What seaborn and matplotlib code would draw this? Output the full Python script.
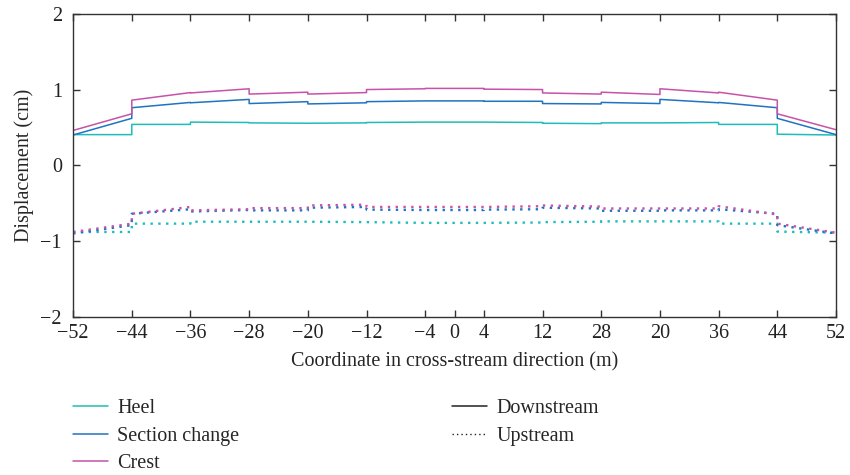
import numpy as np
import pandas as pd
import seaborn as sns
import matplotlib
matplotlib.use("Agg")
import matplotlib.pyplot as plt
from matplotlib.lines import Line2D

# Section boundaries along the dam axis (m)
bounds = [-52, -44, -36, -28, -20, -12, -4, 4, 12, 20, 28, 36, 44, 52]

# Displacement at the start / end of each section (cm)
down_crest_start = [0.46, 0.86, 0.955, 0.94, 0.94, 1.00, 1.015, 1.005, 0.955, 0.965, 1.01, 0.965, 0.68]
down_crest_end = [0.68, 0.96, 1.01, 0.965, 0.96, 1.01, 1.015, 1.00, 0.94, 0.935, 0.955, 0.86, 0.47]
down_section_start = [0.40, 0.76, 0.825, 0.815, 0.81, 0.84, 0.85, 0.845, 0.815, 0.83, 0.87, 0.83, 0.62]
down_section_end = [0.62, 0.83, 0.87, 0.84, 0.825, 0.85, 0.85, 0.845, 0.81, 0.815, 0.825, 0.76, 0.405]
down_heel_start = [0.405, 0.54, 0.57, 0.56, 0.555, 0.565, 0.57, 0.57, 0.555, 0.56, 0.56, 0.54, 0.41]
down_heel_end = [0.405, 0.54, 0.565, 0.555, 0.56, 0.57, 0.57, 0.565, 0.55, 0.56, 0.565, 0.54, 0.40]

up_crest_start = [-0.88, -0.64, -0.595, -0.565, -0.53, -0.55, -0.55, -0.55, -0.53, -0.57, -0.57, -0.54, -0.77]
up_crest_end = [-0.77, -0.55, -0.58, -0.565, -0.52, -0.55, -0.55, -0.54, -0.545, -0.57, -0.57, -0.65, -0.89]
up_section_start = [-0.90, -0.64, -0.61, -0.595, -0.56, -0.585, -0.59, -0.585, -0.56, -0.60, -0.595, -0.58, -0.79]
up_section_end = [-0.79, -0.58, -0.59, -0.595, -0.55, -0.59, -0.59, -0.58, -0.57, -0.60, -0.595, -0.64, -0.90]
up_heel_start = [-0.88, -0.77, -0.745, -0.745, -0.745, -0.75, -0.76, -0.76, -0.75, -0.74, -0.74, -0.77, -0.875]
up_heel_end = [-0.88, -0.77, -0.745, -0.745, -0.75, -0.76, -0.76, -0.755, -0.745, -0.74, -0.74, -0.77, -0.89]

locations = ["Heel", "Section change", "Crest"]
faces = ["Downstream", "Upstream"]
tick_pos = [-52, -44, -36, -28, -20, -12, -4, 0, 4, 12, 20, 28, 36, 44, 52]
tick_labels = ["\u221252", "\u221244", "\u221236", "\u221228", "\u221220", "\u221212",
               "\u22124", "0", "4", "12", "28", "20", "36", "44", "52"]

palette = {"Heel": "#1fbdb8", "Section change": "#1f74c2", "Crest": "#c852a8"}

series = {
    ("Heel", "Downstream"): (down_heel_start, down_heel_end),
    ("Section change", "Downstream"): (down_section_start, down_section_end),
    ("Crest", "Downstream"): (down_crest_start, down_crest_end),
    ("Heel", "Upstream"): (up_heel_start, up_heel_end),
    ("Section change", "Upstream"): (up_section_start, up_section_end),
    ("Crest", "Upstream"): (up_crest_start, up_crest_end),
}

# Long-form table: each section contributes its two end points, so the
# curves jump vertically at every section joint.
rows = []
for (loc, face), (starts, ends) in series.items():
    for i in range(len(starts)):
        rows.append((bounds[i], starts[i], loc, face))
        rows.append((bounds[i + 1], ends[i], loc, face))
df = pd.DataFrame(rows, columns=["x", "disp", "location", "face"])

sns.set_theme(style="white")
plt.rcParams["font.family"] = ["Liberation Serif", "DejaVu Serif"]
plt.rcParams["font.size"] = 14.5

fig = plt.figure(figsize=(8.5, 4.75), dpi=100)
ax = fig.add_axes([0.086, 0.333, 0.8975, 0.638])

for loc in locations:
    sns.lineplot(data=df[(df.location == loc) & (df.face == "Downstream")],
                 x="x", y="disp", color=palette[loc], sort=False, estimator=None,
                 lw=1.1, ax=ax, legend=False)
for loc in locations:
    sns.lineplot(data=df[(df.location == loc) & (df.face == "Upstream")],
                 x="x", y="disp", color=palette[loc], sort=False, estimator=None,
                 lw=1.7, dashes=(1, 2.3), ax=ax, legend=False)

ax.set_xlim(-52, 52)
ax.set_ylim(-2, 2)
ax.set_xticks(tick_pos)
ax.set_xticklabels(tick_labels)
ax.set_yticks([-2, -1, 0, 1, 2])
ax.set_xlabel("Coordinate in cross-stream direction (m)", fontsize=14.5, labelpad=7)
ax.set_ylabel("Displacement (cm)", fontsize=14.5, labelpad=5)

for sp in ax.spines.values():
    sp.set_color("#333333")
    sp.set_linewidth(1.0)
ax.tick_params(axis="both", which="both", direction="in", length=5, width=1,
               color="#333333", top=True, right=True, bottom=True, left=True,
               labelsize=14.5, labelcolor="#222222")
ax.tick_params(axis="x", pad=5)
ax.tick_params(axis="y", pad=8)

loc_handles = [Line2D([], [], color=palette[l], lw=1.1) for l in locations]
face_handles = [Line2D([], [], color="#222222", lw=1.1),
                Line2D([], [], color="#222222", lw=1.0, linestyle=(0, (1, 2.2)))]

common = dict(frameon=False, fontsize=14.5, handlelength=1.75, handletextpad=0.45,
              labelspacing=0.42, borderaxespad=0, borderpad=0, loc="upper left")
fig.legend(loc_handles, locations, bbox_to_anchor=(0.086, 0.16), **common)
fig.legend(face_handles, faces, bbox_to_anchor=(0.532, 0.16), **common)

fig.savefig("out.png", dpi=100)
